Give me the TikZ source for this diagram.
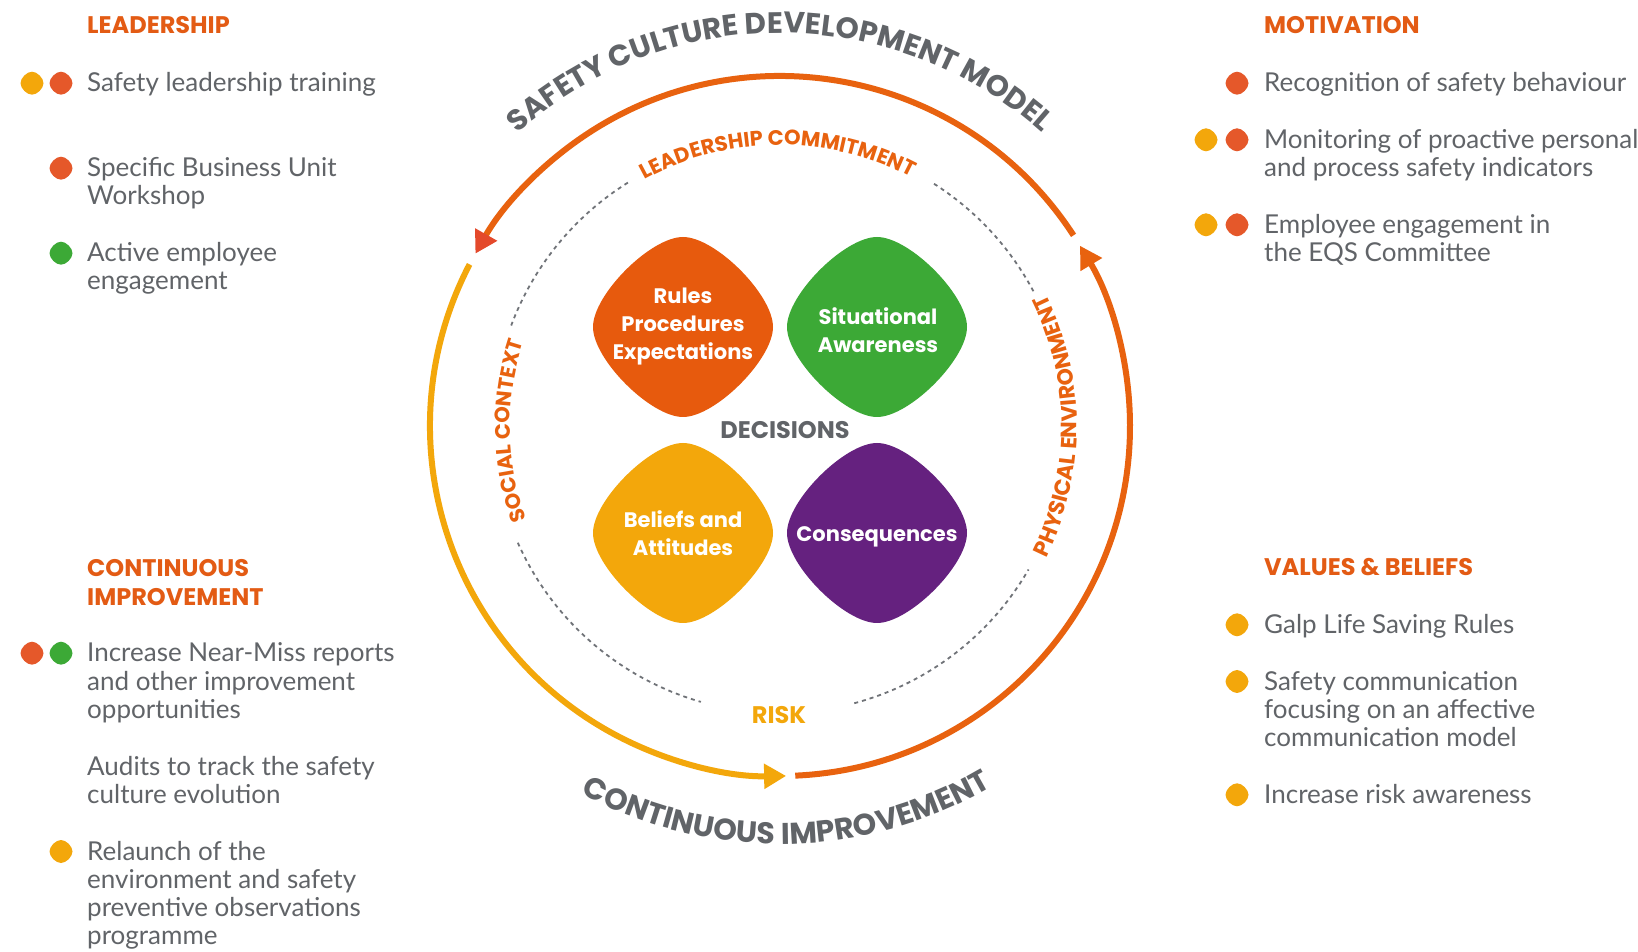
\documentclass[tikz,border=0pt]{standalone}
\usepackage{fontspec}
\setmainfont{Lato}
\newfontfamily\pop{Poppins}
\usetikzlibrary{arrows.meta,decorations.text,calc}
\definecolor{gOrange}{HTML}{E8620F}
\definecolor{bOrange}{HTML}{E75A0D}
\definecolor{gHead}{HTML}{E35B14}
\definecolor{gRed}{HTML}{E4492B}
\definecolor{gYellow}{HTML}{F3A70B}
\definecolor{gGreen}{HTML}{3CA936}
\definecolor{gPurple}{HTML}{65217F}
\definecolor{gGray}{HTML}{616468}
\definecolor{gDash}{HTML}{707378}
\definecolor{dOrange}{HTML}{E5582A}
\newcommand\galpblob[4]{\fill[#2,shift={#1},scale=#3] (0,1) .. controls (#4,1) and (1,#4) .. (1,0) .. controls (1,-#4) and (#4,-1) .. (0,-1) .. controls (-#4,-1) and (-1,-#4) .. (-1,0) .. controls (-1,#4) and (-#4,1) .. (0,1) -- cycle;}
\tikzset{
 body/.style={anchor=base west, align=left, text=gGray, font=\fontsize{26}{28.3}\selectfont, inner sep=0pt},
 head/.style={anchor=base west, align=left, text=gHead, font=\pop\bfseries\fontsize{24}{28.5}\selectfont, inner sep=0pt},
 blobtxt/.style={align=center, text=white, font=\pop\bfseries\fontsize{21}{28}\selectfont, inner sep=0pt},
 lbl/.style={font=\pop\bfseries\fontsize{24}{24}\selectfont, inner sep=0pt},
 arcline/.style={line width=6pt},
 dashc/.style={gDash, line width=1.8pt, dash pattern=on 4pt off 4pt},
 tip/.style={-{Triangle[length=22pt,width=24pt,#1]}},
}
\begin{document}
\begin{tikzpicture}[x=1pt,y=1pt]
\useasboundingbox (0,0) rectangle (1638,951);
\fill[white] (0,0) rectangle (1638,951);
\coordinate (c) at (780,525);
% outer arcs
\draw[arcline, gOrange, tip={color=gRed}] ($(c)+(33:350)$) arc[start angle=33, end angle=150.5, radius=350];
\draw[arcline, gYellow, tip={}] ($(c)+(152.5:350)$) arc[start angle=152.5, end angle=271, radius=350];
\draw[arcline, gOrange, tip={}] ($(c)+(272.5:350)$) arc[start angle=272.5, end angle=391, radius=350];
% dashed inner circle
\draw[dashc] ($(c)+(28:287)$) arc[start angle=28,end angle=58,radius=287];
\draw[dashc] ($(c)+(122:287)$) arc[start angle=122,end angle=159.5,radius=287];
\draw[dashc] ($(c)+(204:287)$) arc[start angle=204,end angle=254,radius=287];
\draw[dashc] ($(c)+(285:287)$) arc[start angle=285,end angle=330,radius=287];
% curved titles
\path[decorate, decoration={text along path, text align=center, text color=gGray, text={|\pop\bfseries\fontsize{29.5}{29.5}\selectfont|SAFETY CULTURE DEVELOPMENT MODEL}}] ($(c)+(140:393)$) arc[start angle=140, end angle=40, radius=393];
\path[decorate, decoration={text along path, text align=center, text color=gGray, text={|\pop\bfseries\fontsize{30}{30}\selectfont|CONTINUOUS IMPROVEMENT}}] ($(c)+(230:418)$) arc[start angle=230, end angle=312, radius=418];
\path[decorate, decoration={text along path, text align=center, text color=gOrange, text={|\pop\bfseries\fontsize{21}{21}\selectfont|LEADERSHIP COMMITMENT}}] ($(c)+(130:281)$) arc[start angle=130, end angle=51, radius=281];
\path[decorate, decoration={text along path, text align=center, text color=gOrange, text={|\pop\bfseries\fontsize{21}{21}\selectfont|SOCIAL CONTEXT}}] ($(c)+(211:270)$) arc[start angle=211, end angle=151, radius=270];
\path[decorate, decoration={text along path, text align=center, text color=gOrange, text={|\pop\bfseries\fontsize{22}{22}\selectfont|PHYSICAL ENVIRONMENT}}] ($(c)+(-40:297)$) arc[start angle=-40, end angle=40, radius=297];
% blobs
\galpblob{(683,624)}{bOrange}{90}{0.36}
\galpblob{(877,624)}{gGreen}{90}{0.36}
\galpblob{(683,418)}{gYellow}{90}{0.36}
\galpblob{(877,418)}{gPurple}{90}{0.36}
\node[blobtxt] (rpe) at (683,624) {Rules\\Procedures\\Expectations};
\node[blobtxt] (sa) at (878,621) {Situational\\Awareness};
\node[blobtxt] (ba) at (683,418) {Beliefs and\\Attitudes};
\node[blobtxt] (cq) at (877,414) {Consequences};
\node[lbl, text=gGray] (dec) at (785,521) {DECISIONS};
\node[lbl, text=gYellow] (risk) at (779,235.5) {RISK};
% Leadership
\node[head] (hLead) at (87,917.7) {LEADERSHIP};
\node[body] (l1) at (87,859.3) {Safety leadership training};
\node[body] (l2) at (87,746.0) {Specific Business Unit\\Workshop};
\node[body] (l3) at (87,661.0) {Active employee\\engagement};
\galpblob{(32,867.8)}{gYellow}{11.5}{0.45}
\galpblob{(61,867.8)}{dOrange}{11.5}{0.45}
\galpblob{(61,782.8)}{dOrange}{11.5}{0.45}
\galpblob{(61,697.8)}{gGreen}{11.5}{0.45}
% Motivation
\node[head] (hMot) at (1264,917.7) {MOTIVATION};
\node[body] (m1) at (1264,859.3) {Recognition of safety behaviour};
\node[body] (m2) at (1264,774.4) {Monitoring of proactive personal\\and process safety indicators};
\node[body] (m3) at (1264,689.4) {Employee engagement in\\the EQS Committee};
\galpblob{(1237,867.8)}{dOrange}{11.5}{0.45}
\galpblob{(1206,811.2)}{gYellow}{11.5}{0.45}
\galpblob{(1237,811.2)}{dOrange}{11.5}{0.45}
\galpblob{(1206,726.2)}{gYellow}{11.5}{0.45}
\galpblob{(1237,726.2)}{dOrange}{11.5}{0.45}
% Continuous improvement
\node[head] (hCI) at (87,345.8) {CONTINUOUS\\IMPROVEMENT};
\node[body] (c1) at (87,232.7) {Increase Near-Miss reports\\and other improvement\\opportunities};
\node[body] (c2) at (87,147.7) {Audits to track the safety\\culture evolution};
\node[body] (c3) at (87,6.1) {Relaunch of the\\environment and safety\\preventive observations\\programme};
\galpblob{(32,297.8)}{dOrange}{11.5}{0.45}
\galpblob{(61,297.8)}{gGreen}{11.5}{0.45}
\galpblob{(61,99.5)}{gYellow}{11.5}{0.45}
% Values & beliefs
\node[head] (hVal) at (1264,375) {VALUES \& BELIEFS};
\node[body] (v1) at (1264,317.7) {Galp Life Saving Rules};
\node[body] (v2) at (1264,204.4) {Safety communication\\focusing on an affective\\communication model};
\node[body] (v3) at (1264,147.7) {Increase risk awareness};
\galpblob{(1237,326.2)}{gYellow}{11.5}{0.45}
\galpblob{(1237,269.5)}{gYellow}{11.5}{0.45}
\galpblob{(1237,156.2)}{gYellow}{11.5}{0.45}
\end{tikzpicture}
\end{document}
